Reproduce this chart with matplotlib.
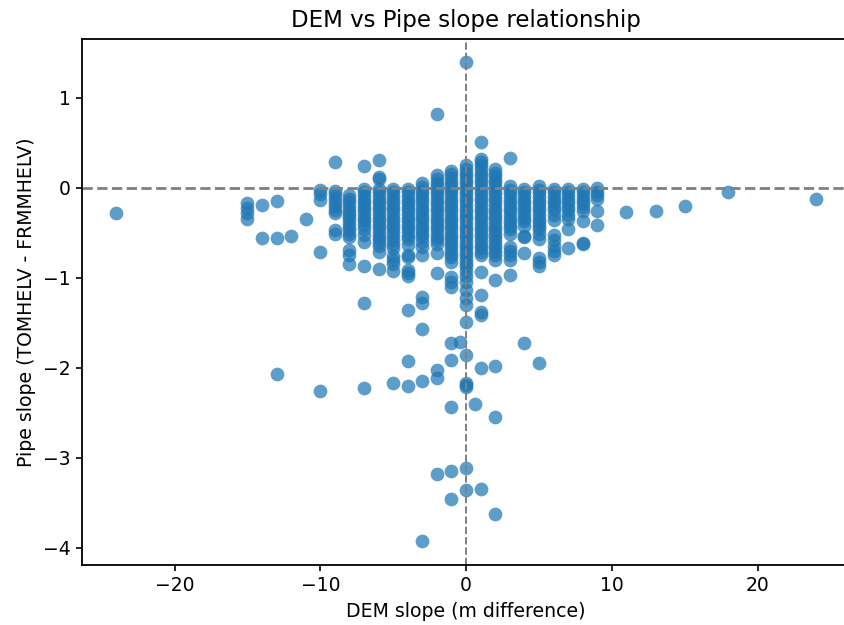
import matplotlib
matplotlib.use('Agg')
import matplotlib.pyplot as plt

# pipe slope values read per DEM slope column
col_m10 = [-0.02, -0.07, -0.13, -0.71]
col_m9 = [0.29, -0.03, -0.07, -0.11, -0.16, -0.2, -0.25, -0.28, -0.47, -0.51]
col_m8 = [-0.08, -0.12, -0.16, -0.2, -0.24, -0.28, -0.31, -0.35, -0.39, -0.43, -0.47, -0.51, -0.55, -0.69, -0.75, -0.84]
col_m7 = [0.24, -0.01, -0.05, -0.09, -0.13, -0.17, -0.21, -0.25, -0.29, -0.33, -0.37, -0.41, -0.46, -0.52, -0.6, -0.87, -1.28, -2.22]
col_m6 = [0.31, 0.12, 0.1, -0.01, -0.05, -0.09, -0.13, -0.17, -0.21, -0.25, -0.29, -0.33, -0.37, -0.41, -0.45, -0.49, -0.53, -0.57, -0.61, -0.65, -0.71, -0.9]
col_m5 = [-0.01, -0.05, -0.09, -0.13, -0.17, -0.21, -0.25, -0.29, -0.33, -0.37, -0.41, -0.45, -0.49, -0.53, -0.58, -0.62, -0.67, -0.76, -0.8, -0.85, -0.92, -2.17]
col_m4 = [-0.01, -0.05, -0.09, -0.13, -0.17, -0.21, -0.25, -0.29, -0.33, -0.37, -0.41, -0.45, -0.49, -0.53, -0.57, -0.63, -0.77, -0.74, -0.91, -0.95, -0.98, -1.36, -1.92, -2.2]
col_m3 = [0.05, 0.01, -0.03, -0.07, -0.11, -0.15, -0.19, -0.23, -0.27, -0.31, -0.35, -0.39, -0.43, -0.47, -0.51, -0.55, -0.6, -0.66, -0.75, -1.21, -1.28, -1.57, -2.15, -3.92]
col_m2 = [0.82, 0.14, 0.1, 0.06, 0.02, -0.02, -0.06, -0.1, -0.14, -0.18, -0.22, -0.26, -0.3, -0.34, -0.38, -0.42, -0.46, -0.5, -0.54, -0.58, -0.62, -0.72, -0.95, -2.02, -2.11, -3.18]
col_m1 = [0.19, 0.15, 0.11, 0.07, 0.03, -0.01, -0.05, -0.09, -0.13, -0.17, -0.21, -0.25, -0.29, -0.33, -0.37, -0.41, -0.45, -0.49, -0.53, -0.57, -0.61, -0.65, -0.69, -0.73, -0.77, -0.82, -0.99, -1.05, -1.1, -1.72, -1.91, -2.43, -3.15, -3.46]
col_0 = [1.4, 0.25, 0.21, 0.17, 0.13, 0.09, 0.05, 0.01, -0.03, -0.07, -0.11, -0.15, -0.19, -0.23, -0.27, -0.31, -0.35, -0.39, -0.43, -0.47, -0.51, -0.55, -0.59, -0.63, -0.67, -0.71, -0.75, -0.79, -0.83, -0.87, -0.92, -0.98, -1.05, -1.13, -1.22, -1.3, -1.49, -1.86, -2.17, -2.19, -2.21, -3.11, -3.36]
col_1 = [0.51, 0.32, 0.29, 0.25, 0.21, 0.17, 0.13, 0.09, 0.05, 0.01, -0.03, -0.07, -0.11, -0.15, -0.19, -0.23, -0.27, -0.31, -0.35, -0.39, -0.43, -0.47, -0.51, -0.55, -0.59, -0.63, -0.67, -0.71, -0.75, -0.93, -1.19, -1.38, -1.41, -2.0, -3.35]
col_2 = [0.21, 0.17, 0.13, 0.09, 0.05, 0.01, -0.03, -0.07, -0.11, -0.15, -0.19, -0.23, -0.27, -0.31, -0.35, -0.39, -0.43, -0.47, -0.51, -0.55, -0.59, -0.63, -0.67, -0.71, -0.75, -0.8, -1.02, -1.98, -2.54, -3.62]
col_3 = [0.33, 0.02, -0.02, -0.06, -0.1, -0.14, -0.18, -0.22, -0.26, -0.3, -0.34, -0.38, -0.42, -0.46, -0.51, -0.66, -0.7, -0.75, -0.8, -0.97]
col_4 = [-0.01, -0.05, -0.09, -0.13, -0.17, -0.21, -0.25, -0.29, -0.33, -0.37, -0.42, -0.53, -0.55, -0.72, -1.72]
col_5 = [0.02, -0.02, -0.06, -0.1, -0.14, -0.18, -0.22, -0.26, -0.3, -0.34, -0.38, -0.42, -0.46, -0.51, -0.57, -0.78, -0.82, -0.87, -1.95]
col_6 = [-0.01, -0.05, -0.09, -0.13, -0.17, -0.21, -0.25, -0.3, -0.36, -0.52, -0.58, -0.64, -0.7, -0.74]
col_7 = [-0.01, -0.05, -0.09, -0.13, -0.17, -0.21, -0.25, -0.3, -0.35, -0.46, -0.67]
col_8 = [-0.01, -0.05, -0.09, -0.13, -0.17, -0.21, -0.26, -0.37, -0.61, -0.62]
col_9 = [0.0, -0.04, -0.08, -0.12, -0.26, -0.41]
col_keys = [-10, -9, -8, -7, -6, -5, -4, -3, -2, -1, 0, 1, 2, 3, 4, 5, 6, 7, 8, 9]
col_values = [col_m10, col_m9, col_m8, col_m7, col_m6, col_m5, col_m4, col_m3, col_m2, col_m1,
              col_0, col_1, col_2, col_3, col_4, col_5, col_6, col_7, col_8, col_9]

# points outside the dense columns
other_x = [-24, -15, -15, -15, -15, -14, -14, -13, -13, -13, -12, -11, -10, -0.4, 0.6, 11, 13, 15, 18, 24]
other_y = [-0.28, -0.17, -0.22, -0.28, -0.35, -0.19, -0.56, -0.15, -0.56, -2.07, -0.53, -0.34, -2.26, -1.71, -2.4, -0.27, -0.26, -0.2, -0.04, -0.12]

dem_slope = list(other_x)
pipe_slope = list(other_y)
for key, values in zip(col_keys, col_values):
    dem_slope += [key] * len(values)
    pipe_slope += values

fig = plt.figure(figsize=(8.44, 6.25), dpi=100)
ax = fig.add_axes([82 / 844, 1 - 565 / 625, (850 - 82) / 844, (565 - 39) / 625])
ax.scatter(dem_slope, pipe_slope, s=98, alpha=0.72, linewidths=0)
ax.axhline(0, color='gray', linestyle='--', linewidth=2)
ax.axvline(0, color='gray', linestyle='--', linewidth=1.4)
ax.set_xlim(-26.35, 26.34)
ax.set_ylim(-4.19, 1.655)
ax.set_xticks([-20, -10, 0, 10, 20])
ax.set_yticks([1, 0, -1, -2, -3, -4])
ax.tick_params(labelsize=13.5, width=1.2, length=4.5)
for spine in ax.spines.values():
    spine.set_linewidth(1.3)
ax.set_title('DEM vs Pipe slope relationship', fontsize=16.5, pad=9)
ax.set_xlabel('DEM slope (m difference)', fontsize=13.6, labelpad=5)
ax.set_ylabel('Pipe slope (TOMHELV - FRMMHELV)', fontsize=13.6, labelpad=5)
plt.savefig('out.png', dpi=100)
plt.close(fig)
